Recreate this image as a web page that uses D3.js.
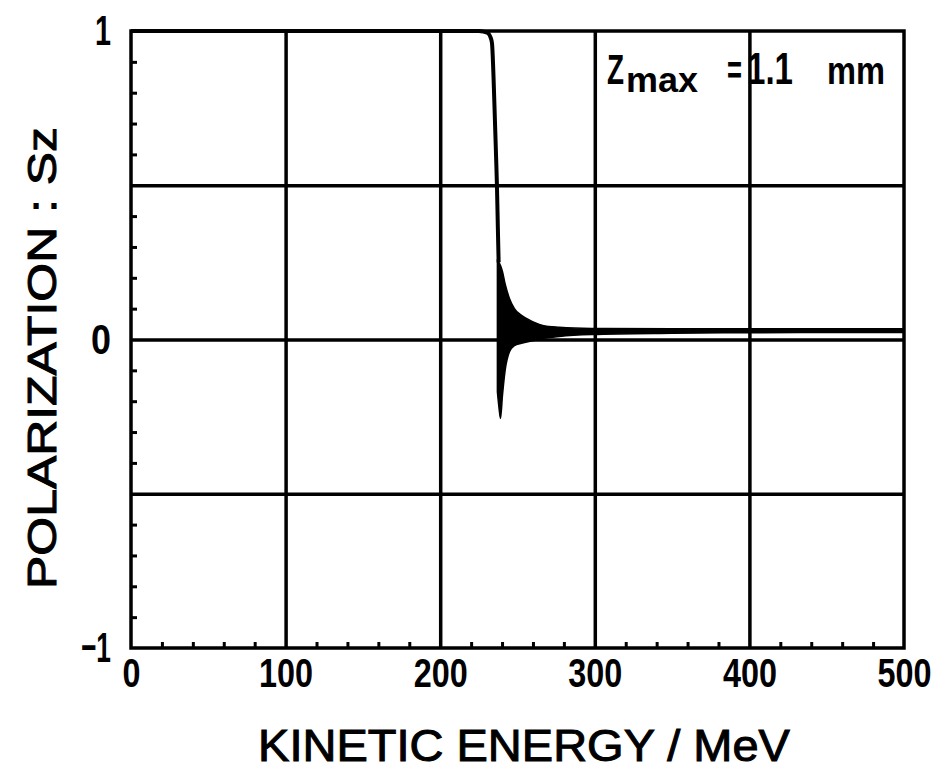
<!DOCTYPE html>
<html>
<head>
<meta charset="utf-8">
<script src="https://cdn.jsdelivr.net/npm/d3@7"></script>
<style>
  body { margin: 0; background: #fff; }
  svg { display: block; }
  text { font-family: "Liberation Sans", Arial, sans-serif; font-weight: bold; fill: #000; }
  text.title { font-weight: normal; stroke: #000; stroke-width: 1; }
</style>
</head>
<body>
<svg id="svg0" width="944" height="770"></svg>
<script>

// values
var xTicks = [0, 100, 200, 300, 400, 500];
var xMinor = [20, 40, 60, 80, 120, 140, 160, 180, 220, 240, 260, 280, 320, 340, 360, 380, 420, 440, 460, 480];
var yTicks = [-1, 0, 1];
var yTickLabels = ['\u22121', '0', '1'];
var yGrid = [-0.5, 0, 0.5];
var yMinor = [-0.9, -0.8, -0.7, -0.6, -0.4, -0.3, -0.2, -0.1, 0.1, 0.2, 0.3, 0.4, 0.6, 0.7, 0.8, 0.9];

// S_z before and through the resonance drop
var dropE = [0, 225, 228, 230, 231.5, 232.5, 233.5, 234.5, 235.4, 236.1, 236.7, 237.3, 237.8];
var dropS = [1, 1, 0.998, 0.995, 0.99, 0.98, 0.96, 0.85, 0.71, 0.6, 0.5, 0.36, 0.25];

// envelope of the fast oscillation after the drop
var envE  = [237, 238, 239, 240.3, 242, 244.8, 248, 252.6, 259.7, 267, 277, 298, 350, 400, 450, 500];
var envHi = [0.26, 0.25, 0.24, 0.22, 0.18, 0.133, 0.10, 0.078, 0.058, 0.045, 0.04, 0.036, 0.035, 0.035, 0.035, 0.035];
var envLo = [-0.17, -0.22, -0.256, -0.18, -0.10, -0.04, -0.02, -0.012, -0.004, 0.004, 0.01, 0.016, 0.02, 0.022, 0.023, 0.023];

var marginLeft = 131;
var marginTop = 31;
var plotW = 904 - 131;
var plotH = 648 - 31;

var x = d3.scaleLinear().domain([0, 500]).range([0, plotW]);
var y = d3.scaleLinear().domain([-1, 1]).range([plotH, 0]);

var svg0 = d3.select('#svg0');
svg0.append('rect').attr('width', 944).attr('height', 770).attr('fill', '#fff');

var g = svg0.append('g')
    .attr('transform', 'translate(' + marginLeft + ',' + marginTop + ')');

// squeeze a text horizontally so it is w pixels wide (the lettering is condensed)
function squeeze(node, w) {
    var n = node.getComputedTextLength();
    return n > 0 ? w / n : 1;
}

// grid lines
g.append('g')
    .attr('transform', 'translate(0,' + plotH + ')')
    .call(d3.axisBottom(x).tickValues([100, 200, 300, 400]).tickSize(-plotH).tickFormat(''))
    .call(function(s){ s.select('.domain').remove(); })
    .selectAll('line').attr('stroke', '#000').attr('stroke-width', 3.5);

g.append('g')
    .call(d3.axisLeft(y).tickValues(yGrid).tickSize(-plotW).tickFormat(''))
    .call(function(s){ s.select('.domain').remove(); })
    .selectAll('line').attr('stroke', '#000').attr('stroke-width', 3.5);

// minor ticks pointing inward
g.append('g')
    .attr('transform', 'translate(0,' + plotH + ')')
    .call(d3.axisBottom(x).tickValues(xMinor).tickSize(-6).tickFormat(''))
    .call(function(s){ s.select('.domain').remove(); })
    .selectAll('line').attr('stroke', '#000').attr('stroke-width', 3);

g.append('g')
    .call(d3.axisLeft(y).tickValues(yMinor).tickSize(-6).tickFormat(''))
    .call(function(s){ s.select('.domain').remove(); })
    .selectAll('line').attr('stroke', '#000').attr('stroke-width', 3);

// frame
g.append('rect')
    .attr('width', plotW)
    .attr('height', plotH)
    .attr('fill', 'none')
    .attr('stroke', '#000')
    .attr('stroke-width', 3.5);

// tick labels
var xAx = g.append('g')
    .attr('transform', 'translate(0,' + plotH + ')')
    .call(d3.axisBottom(x).tickValues(xTicks).tickSize(0).tickPadding(10));
xAx.select('.domain').remove();
xAx.selectAll('text')
    .attr('font-size', 41)
    .attr('font-family', null)
    .each(function(d){
        var s = squeeze(this, String(d).length * 18);
        d3.select(this).attr('transform', 'scale(' + s + ',1)');
    });

var yAx = g.append('g')
    .call(d3.axisLeft(y).tickValues(yTicks).tickSize(0).tickPadding(20)
        .tickFormat(function(d, i){ return yTickLabels[i]; }));
yAx.select('.domain').remove();
var yLabW = {'\u22121': 30, '0': 20, '1': 16};
yAx.selectAll('text')
    .attr('font-size', 43)
    .attr('font-family', null)
    .each(function(d, i){
        var s = squeeze(this, yLabW[yTickLabels[i]]);
        d3.select(this).attr('x', -20 / s).attr('transform', 'scale(' + s + ',1)');
    });

// curve
var area = d3.area()
    .x(function(d){ return x(d.e); })
    .y0(function(d){ return y(d.lo); })
    .y1(function(d){ return y(d.hi); })
    .curve(d3.curveMonotoneX);

var env = envE.map(function(e, i){ return {e: e, hi: envHi[i], lo: envLo[i]}; });
g.append('path')
    .datum(env)
    .attr('d', area)
    .attr('fill', '#000')
    .attr('stroke', '#000')
    .attr('stroke-width', 1.5);

var line = d3.line()
    .x(function(d){ return x(d.e); })
    .y(function(d){ return y(d.s); })
    .curve(d3.curveMonotoneX);

var drop = dropE.map(function(e, i){ return {e: e, s: dropS[i]}; });
g.append('path')
    .datum(drop)
    .attr('d', line)
    .attr('fill', 'none')
    .attr('stroke', '#000')
    .attr('stroke-width', 4);

// free texts, squeezed to the width they have in the figure
function label(txt, px, py, size, w, anchor, rot, cls) {
    var t = svg0.append('text')
        .attr('class', cls || null)
        .attr('font-size', size)
        .attr('text-anchor', anchor || 'start')
        .text(txt);
    var s = squeeze(t.node(), w);
    t.attr('transform', 'translate(' + px + ',' + py + ')' + (rot ? ' rotate(' + rot + ')' : '') + ' scale(' + s + ',1)');
    return t;
}

// axis titles
label('KINETIC ENERGY / MeV', 524, 761, 44, 532, 'middle', 0, 'title');
label('POLARIZATION : Sz', 56, 358, 41, 462, 'middle', -90, 'title');

// annotation
label('Z', 607, 84, 43, 17);
label('max', 626, 92, 36, 72);
label('=', 727, 84, 40, 15);
label('1.1', 747, 84, 44, 46);
label('mm', 827, 84, 38, 58);

</script>
</body>
</html>
